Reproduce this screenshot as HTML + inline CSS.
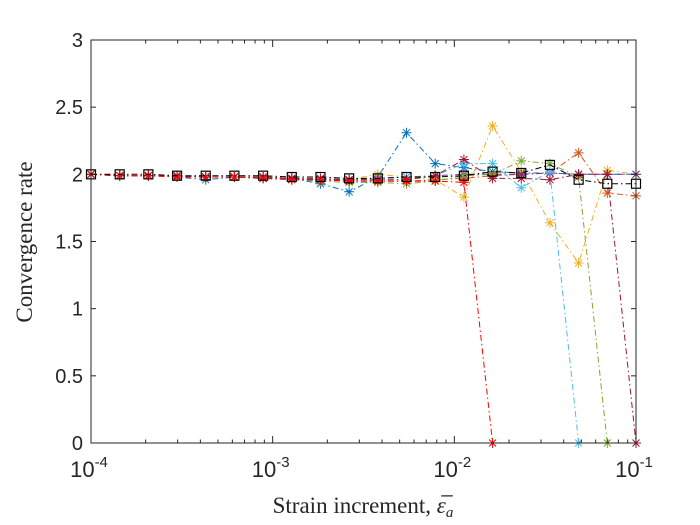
<!DOCTYPE html>
<html><head><meta charset="utf-8">
<style>
body{margin:0;background:#fff;}
</style></head>
<body>
<svg id="chart" width="700" height="525" viewBox="0 0 700 525" xmlns="http://www.w3.org/2000/svg" style="position:absolute;left:0;top:0">
<rect width="700" height="525" fill="#fff"/>
<g id="marks"></g>
<g id="axes"></g>
<text x="363" y="513" text-anchor="middle" style="font-family:'Liberation Serif',serif;font-size:23px" fill="#262626">Strain increment, <tspan font-style="italic">ε̅</tspan><tspan font-style="italic" font-size="15" dy="4">a</tspan></text>
<text transform="translate(32,242) rotate(-90)" text-anchor="middle" style="font-family:'Liberation Serif',serif;font-size:23px" fill="#262626">Convergence rate</text>
</svg>
<script>
const strainIncrements = Array.from({length:20},(_,i)=>Math.pow(10,-4+3*i/19));
const yTicks = [0,0.5,1,1.5,2,2.5,3];
const yTickLabels = ["0","0.5","1","1.5","2","2.5","3"];
const xDecades = [-4,-3,-2,-1];
const seriesNames = ["blue","orange","yellow","purple","green","light-blue","dark-red","red","black-square"];
const seriesColors = ["#0072BD","#D95319","#EDB120","#7E2F8E","#77AC30","#4DBEEE","#A2142F","#FF0000","#000000"];
const seriesBlue   = [2.0,1.99,1.99,1.98,1.96,1.98,1.97,1.97,1.93,1.87,1.98,2.31,2.08,2.05,2.02,2.01,2.01,2.0,2.0,2.0];
const seriesOrange = [2.0,1.99,1.99,1.99,1.98,1.98,1.98,1.97,1.96,1.95,1.95,1.95,1.96,1.97,1.99,2.0,2.01,2.16,1.86,1.84];
const seriesYellow = [2.0,1.99,1.99,1.99,1.98,1.98,1.98,1.97,1.96,1.96,2.0,1.98,1.96,1.83,2.36,2.02,1.64,1.34,2.03,2.0];
const seriesPurple = [2.0,1.99,1.99,1.99,1.98,1.98,1.98,1.97,1.97,1.96,1.97,1.98,1.99,2.0,2.0,2.0,2.01,2.0,2.0,2.0];
const seriesGreen  = [2.0,1.99,1.99,1.98,1.98,1.98,1.97,1.96,1.95,1.94,1.94,1.93,1.95,1.99,2.0,2.1,2.08,1.98,0,null];
const seriesLightBlue = [2.0,1.99,1.99,1.99,1.98,1.98,1.98,1.97,1.96,1.96,1.97,1.98,1.99,2.08,2.08,1.90,2.02,0,null,null];
const seriesDarkRed = [2.0,1.99,1.99,1.99,1.98,1.98,1.98,1.97,1.96,1.96,1.96,1.96,1.99,2.11,1.97,1.97,1.96,2.0,2.0,0];
const seriesRed    = [2.0,1.99,1.99,1.98,1.98,1.98,1.97,1.96,1.96,1.95,1.95,1.95,1.95,1.94,0,null,null,null,null,null];
const seriesBlack  = [2.0,2.0,2.0,1.99,1.99,1.99,1.99,1.98,1.98,1.97,1.97,1.98,1.98,1.99,2.02,2.01,2.07,1.96,1.93,1.93];
const allSeries = [seriesBlue,seriesOrange,seriesYellow,seriesPurple,seriesGreen,seriesLightBlue,seriesDarkRed,seriesRed,seriesBlack];

const X0=91,X1=636,Y0=443,Y1=40;
const xs=v=>X0+(Math.log10(v)+4)/3*(X1-X0);
const ys=v=>Y0-v/3*(Y0-Y1);
const NS="http://www.w3.org/2000/svg";
function mk(tag,attrs,parent){const e=document.createElementNS(NS,tag);for(const k in attrs)e.setAttribute(k,attrs[k]);parent.appendChild(e);return e;}
const marks=document.getElementById('marks'), axes=document.getElementById('axes');

allSeries.forEach((s,si)=>{
  const g=mk('g',{},marks);
  
  
  const c=seriesColors[si];
  let d='';
  s.forEach((v,i)=>{if(v===null)return;d+=(d?'L':'M')+xs(strainIncrements[i]).toFixed(1)+','+ys(v).toFixed(1);});
  const p=mk('path',{d:d,fill:'none',stroke:c,'stroke-width':1,'stroke-dasharray':'6,3,1.5,3'},g);
  
  
  s.forEach((v,i)=>{
    if(v===null)return;
    const x=xs(strainIncrements[i]),y=ys(v);
    if(si===8){
      const r=mk('rect',{x:x-4.5,y:y-4.5,width:9,height:9,fill:'none',stroke:c,'stroke-width':1.2},g);
      
      
    } else {
      const r=5;
      const m=mk('path',{d:`M${x-r},${y}L${x+r},${y}M${x},${y-r}L${x},${y+r}M${x-r*0.7},${y-r*0.7}L${x+r*0.7},${y+r*0.7}M${x-r*0.7},${y+r*0.7}L${x+r*0.7},${y-r*0.7}`,stroke:c,'stroke-width':1},g);
      
      
    }
  });
});

const box=mk('rect',{x:X0,y:Y1,width:X1-X0,height:Y0-Y1,fill:'none',stroke:'#262626','stroke-width':1},axes);


yTicks.forEach((t,i)=>{
  const y=ys(t);
  mk('line',{x1:X0,x2:X0+5,y1:y,y2:y,stroke:'#262626'},axes);
  mk('line',{x1:X1,x2:X1-5,y1:y,y2:y,stroke:'#262626'},axes);
  const tx=mk('text',{x:X0-8,y:y+7,'text-anchor':'end',style:"font-family:'Liberation Sans',sans-serif;font-size:20px",fill:'#262626'},axes);
  tx.textContent=yTickLabels[i];
  
  
});
xDecades.forEach((e,di)=>{
  const x=xs(Math.pow(10,e));
  mk('line',{x1:x,x2:x,y1:Y0,y2:Y0-7,stroke:'#262626'},axes);
  mk('line',{x1:x,x2:x,y1:Y1,y2:Y1+7,stroke:'#262626'},axes);
  if(di<3)for(let k=2;k<10;k++){const xm=xs(k*Math.pow(10,e));
    mk('line',{x1:xm,x2:xm,y1:Y0,y2:Y0-3.5,stroke:'#262626'},axes);
    mk('line',{x1:xm,x2:xm,y1:Y1,y2:Y1+3.5,stroke:'#262626'},axes);}
  const tx=mk('text',{x:x-2,y:477,'text-anchor':'middle',style:"font-family:'Liberation Sans',sans-serif;font-size:22px",fill:'#262626'},axes);
  
  
  tx.innerHTML='10<tspan dy="-10" font-size="15">'+e+'</tspan>';
});
</script>
</body></html>
